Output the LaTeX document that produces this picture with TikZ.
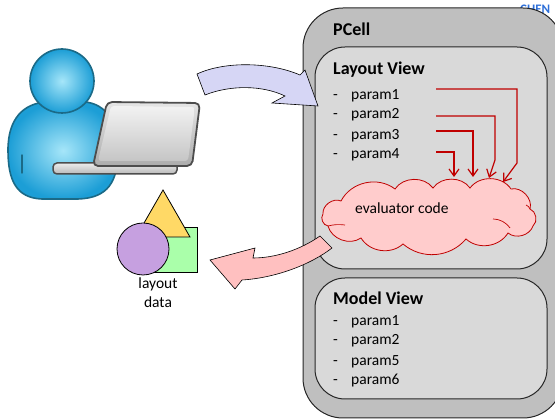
\documentclass[tikz,border=0pt]{standalone}
\usepackage{fontspec}
\setmainfont{Carlito}
\usetikzlibrary{arrows.meta}

\definecolor{pcellgray}{HTML}{BFBFBF}
\definecolor{viewgray}{HTML}{D9D9D9}
\definecolor{cloudfill}{HTML}{FFCCCC}
\definecolor{cloudline}{HTML}{C00000}
\definecolor{feedred}{HTML}{C00000}
\definecolor{inarrow}{HTML}{D6D6F5}
\definecolor{outarrow}{HTML}{FFC0C0}
\definecolor{hdrblue}{HTML}{2E6FD8}
\definecolor{userin}{HTML}{A6E6F9}
\definecolor{userout}{HTML}{1C9ED6}
\definecolor{userline}{HTML}{1B6A87}
\definecolor{lapline}{HTML}{4D4D4D}
\definecolor{triyellow}{HTML}{FFD966}
\definecolor{sqgreen}{HTML}{AAFFAA}
\definecolor{circpurple}{HTML}{C6A0E0}

\begin{document}
\begin{tikzpicture}[x=1pt,y=-1pt,
  txt/.style={font=\fontsize{15.5}{18}\selectfont, inner sep=0, anchor=base west},
  ttl/.style={font=\fontsize{18}{21}\selectfont\bfseries, inner sep=0, anchor=base west},
  lbl/.style={font=\fontsize{15.5}{18}\selectfont, inner sep=0, anchor=base},
  panel/.style={draw=black!85, line width=1pt},
  feed/.style={draw=feedred, line width=1.2pt, -{Straight Barb[length=7pt,width=10pt,line width=1.2pt]}},
  block/.style={draw=black, line width=0.6pt, line join=miter},
  shapeline/.style={draw=black, line width=0.8pt}]

\useasboundingbox (0,0) rectangle (555,419);

% header text, partly covered by the PCell frame
\node[font=\fontsize{13}{15}\selectfont\bfseries, text=hdrblue, anchor=base west, inner sep=0] (hdr) at (520,13.5) {CHEN};

% PCell frame and its two views
\draw[panel, fill=pcellgray, rounded corners=40] (303,8) rectangle (563,418);
\draw[panel, fill=viewgray, rounded corners=30] (315,47) rectangle (547,269);
\draw[panel, fill=viewgray, rounded corners=30] (315,278) rectangle (547,399);

\node[ttl] (pcell) at (333,36) {PCell};
\node[ttl] (lview) at (333,74.6) {Layout View};
\node[txt] (lp1) at (333,99.8) {\makebox[18pt][l]{-}param1};
\node[txt] (lp2) at (333,119) {\makebox[18pt][l]{-}param2};
\node[txt] (lp3) at (333,140) {\makebox[18pt][l]{-}param3};
\node[txt] (lp4) at (333,159) {\makebox[18pt][l]{-}param4};

\node[ttl] (mview) at (333,304.6) {Model View};
\node[txt] (mp1) at (333,326) {\makebox[18pt][l]{-}param1};
\node[txt] (mp2) at (333,345) {\makebox[18pt][l]{-}param2};
\node[txt] (mp5) at (333,366) {\makebox[18pt][l]{-}param5};
\node[txt] (mp6) at (333,384.5) {\makebox[18pt][l]{-}param6};

% result arrow: evaluator output back to the layout data
\fill[outarrow] (320,236) .. controls (300,250) and (275,258) .. (253,258)
  -- (255,248) -- (210,260) -- (235,289) -- (242,280)
  .. controls (275,278) and (310,265) .. (332,248) -- cycle;
\draw[block] (320,236) .. controls (300,250) and (275,258) .. (253,258)
  -- (255,248) -- (210,260) -- (235,289) -- (242,280)
  .. controls (275,278) and (310,265) .. (332,248) -- cycle;

% evaluator cloud
\draw[draw=cloudline, fill=cloudfill, line width=0.8pt]
  (341,201) to[bend left=50] (395,189) to[bend left=55] (433,188)
  to[bend left=55] (470,188) to[bend left=55] (511,189)
  to[bend left=60] (530,209) to[bend left=60] (533,226)
  to[bend left=55] (508,233) to[bend left=50] (466,239)
  to[bend left=45] (403,244) to[bend left=50] (361,238)
  to[bend left=55] (328,226) to[bend left=60] (323,214)
  to[bend left=60] (341,201) -- cycle;
\draw[draw=cloudline, line width=0.7pt] (493,219) to[bend left=25] (510,228);
\draw[draw=cloudline, line width=0.7pt] (328,226) to[bend left=10] (345,225);
\draw[draw=cloudline, line width=0.7pt] (526,205) to[bend left=20] (530,209);
\node[txt] (evalc) at (355,213.5) {evaluator code};

% parameter feeds into the evaluator
\coordinate (s1) at (436,89);   \coordinate (e1) at (503,182);
\coordinate (s2) at (436,116);  \coordinate (e2) at (489,178);
\coordinate (s3) at (436,131);  \coordinate (e3) at (473,177);
\coordinate (s4) at (436,152);  \coordinate (e4) at (454,177);
\draw[feed] (s1) -- (517,89) -- (517,163) -- (e1);
\draw[feed] (s2) -- (495,116) -- (495,160) -- (e2);
\draw[feed] (s3) -| (e3);
\draw[feed] (s4) -| (e4);

% request arrow: user to PCell
\fill[inarrow] (197,74) .. controls (225,61) and (270,62) .. (300,75)
  -- (305,70) -- (318,106) -- (272,103) -- (285,96)
  .. controls (262,85) and (230,85) .. (205,95) -- cycle;
\draw[block] (197,74) .. controls (225,61) and (270,62) .. (300,75)
  -- (305,70) -- (318,106) -- (272,103) -- (285,96)
  .. controls (262,85) and (230,85) .. (205,95) -- cycle;

% user figure
\shade[inner color=userin, outer color=userout, draw=userline, line width=1.6pt]
  (8,150) .. controls (8,118) and (24,104) .. (45,102) -- (85,102)
  .. controls (106,104) and (118,122) .. (118,150)
  .. controls (118,182) and (108,198) .. (78,199) -- (42,199)
  .. controls (16,198) and (8,180) .. (8,150) -- cycle;
\draw[userline, line width=1.4pt, line cap=round] (22,155) -- (22,173);
\shade[inner color=userin, outer color=userout, draw=userline, line width=1.6pt]
  (62,81) circle[radius=32];

% laptop
\shade[top color=gray!15, bottom color=gray!55, draw=lapline, line width=1.5pt, rounded corners=4]
  (53,163) rectangle (177,174);
\shade[top color=gray!20, bottom color=gray!65, draw=lapline, line width=1.8pt, rounded corners=5]
  (107,102) -- (200,103) -- (192,166) -- (93,166) -- cycle;
\shade[top color=gray!10, bottom color=gray!45, rounded corners=3]
  (111,106) -- (195,107) -- (188,161) -- (98,161) -- cycle;

% layout data shapes
\draw[shapeline, fill=sqgreen] (152,227) rectangle (197,272);
\draw[shapeline, fill=triyellow] (163,190) -- (190,237) -- (136,237) -- cycle;
\draw[shapeline, fill=circpurple] (143,249) circle[radius=26];
\node[lbl] (ld1) at (158,289) {layout};
\node[lbl] (ld2) at (158,308) {data};

\end{tikzpicture}
\end{document}
